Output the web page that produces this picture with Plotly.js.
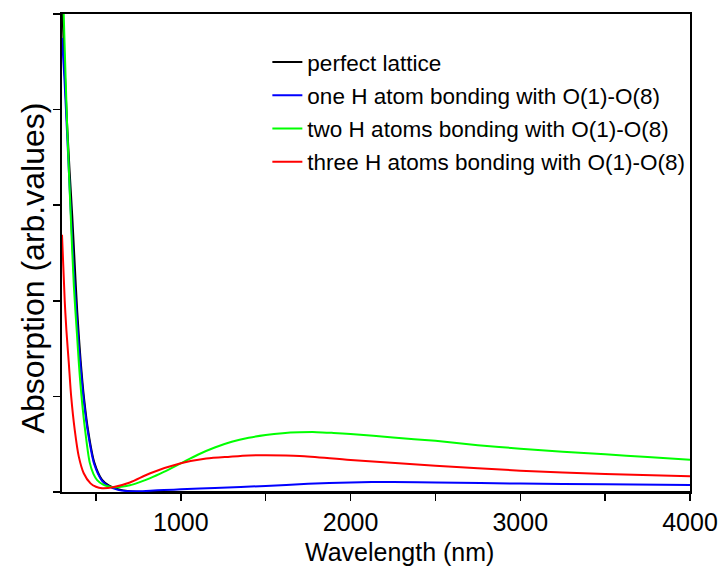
<!DOCTYPE html>
<html>
<head>
<meta charset="utf-8">
<script src="https://cdn.plot.ly/plotly-3.0.1.min.js"></script>
<style>html,body{margin:0;padding:0;background:#fff;}#chart{width:721px;height:568px;}</style>
</head>
<body>
<div id="chart"></div>
<script>
// Wavelength (nm) and absorption (arb. values)
const seriesNames = [
  "perfect lattice",
  "one H atom bonding with O(1)-O(8)",
  "two H atoms bonding with O(1)-O(8)",
  "three H atoms bonding with O(1)-O(8)"
];
const seriesColors = ["#000000", "#0000ff", "#00ff00", "#ff0000"];

const perfectX = [300, 315, 330, 345, 360, 375, 390, 410, 430, 455, 490, 535, 575, 630, 700, 800, 1000, 1500, 2000, 2500, 3000, 3500, 4000];
const perfectY = [5.15, 4.45, 3.85, 3.35, 2.9, 2.38, 1.88, 1.37, 0.98, 0.63, 0.31, 0.13, 0.07, 0.03, 0.008, 0.0, 0.0, 0.0, 0.0, 0.0, 0.0, 0.0, 0.0];

const oneHX = [300, 315, 330, 350, 370, 390, 410, 430, 455, 490, 535, 575, 630, 700, 760, 820, 900, 1000, 1200, 1500, 1750, 2000, 2250, 2500, 3000, 3500, 4000];
const oneHY = [4.75, 4.3, 3.75, 3.0, 2.3, 1.75, 1.3, 0.93, 0.6, 0.29, 0.12, 0.06, 0.022, 0.008, 0.008, 0.014, 0.02, 0.028, 0.042, 0.063, 0.085, 0.1, 0.105, 0.1, 0.088, 0.08, 0.073];

const twoHX = [300, 315, 330, 350, 370, 390, 400, 415, 436, 463, 485, 507, 540, 575, 605, 650, 700, 750, 820, 900, 1000, 1100, 1200, 1300, 1400, 1500, 1600, 1700, 1800, 1900, 2000, 2250, 2500, 2750, 3000, 3250, 3500, 3750, 4000];
const twoHY = [5.6, 4.7, 3.85, 2.95, 2.15, 1.6, 1.33, 1.0, 0.65, 0.31, 0.19, 0.125, 0.08, 0.057, 0.05, 0.056, 0.07, 0.098, 0.145, 0.21, 0.3, 0.39, 0.465, 0.525, 0.567, 0.596, 0.615, 0.624, 0.626, 0.618, 0.607, 0.57, 0.535, 0.49, 0.453, 0.42, 0.394, 0.365, 0.338];

const threeHX = [300, 316, 326, 340, 354, 375, 399, 428, 468, 500, 536, 600, 700, 820, 1000, 1150, 1290, 1400, 1500, 1700, 2000, 2500, 3000, 3500, 4000];
const threeHY = [2.69, 2.0, 1.69, 1.35, 1.0, 0.65, 0.37, 0.196, 0.09, 0.055, 0.04, 0.05, 0.1, 0.196, 0.3, 0.35, 0.37, 0.383, 0.384, 0.377, 0.335, 0.275, 0.223, 0.188, 0.164];

const xTickVals = [500, 1000, 1500, 2000, 2500, 3000, 3500, 4000];
const xTickText = ["", "1000", "", "2000", "", "3000", "", "4000"];
const yTickVals = [0, 1, 2, 3, 4, 5];

const xTitle = "Wavelength (nm)";
const yTitle = "Absorption (arb.values)";

const xs = [perfectX, oneHX, twoHX, threeHX];
const ys = [perfectY, oneHY, twoHY, threeHY];

const traces = seriesNames.map((name, i) => ({
  type: "scatter",
  mode: "lines",
  name: name,
  legendgroup: "g" + i,
  x: xs[i],
  y: ys[i],
  line: {color: seriesColors[i], width: 2, shape: "spline", smoothing: 0.8}
}));

const font = "Arial, 'Liberation Sans', sans-serif";

const layout = {
  width: 721,
  height: 568,
  margin: {l: 62, r: 31, t: 14, b: 76, pad: 0},
  paper_bgcolor: "#ffffff",
  plot_bgcolor: "#ffffff",
  font: {family: font, color: "#000000", size: 22},
  showlegend: true,
  legend: {
    x: 0.327, y: 0.944, xanchor: "left", yanchor: "top",
    bgcolor: "rgba(0,0,0,0)", borderwidth: 0,
    font: {family: font, size: 22.5, color: "#000000"},
    traceorder: "grouped", tracegroupgap: 1
  },
  xaxis: {
    range: [300, 4000],
    tickmode: "array", tickvals: xTickVals, ticktext: xTickText,
    ticks: "outside", ticklen: 7, tickwidth: 1.5, tickcolor: "#000",
    showline: true, linewidth: 2, linecolor: "#000", mirror: true,
    showgrid: false, zeroline: false,
    tickfont: {family: font, size: 25, color: "#000"}
  },
  yaxis: {
    range: [0, 5],
    tickmode: "array", tickvals: yTickVals,
    ticks: "outside", ticklen: 7, tickwidth: 1.5, tickcolor: "#000",
    showticklabels: false,
    showline: true, linewidth: 2, linecolor: "#000", mirror: true,
    showgrid: false, zeroline: false
  },
  annotations: [
    {text: xTitle, xref: "paper", yref: "paper", x: 0.538, y: -0.126,
     xanchor: "center", yanchor: "middle", showarrow: false,
     font: {family: font, size: 25, color: "#000"}},
    {text: yTitle, xref: "paper", yref: "paper", x: -0.046, y: 0.468,
     xanchor: "center", yanchor: "middle", showarrow: false, textangle: -90,
     font: {family: font, size: 32, color: "#000"}}
  ]
};

Plotly.newPlot("chart", traces, layout, {displayModeBar: false, staticPlot: true});
</script>
</body>
</html>
